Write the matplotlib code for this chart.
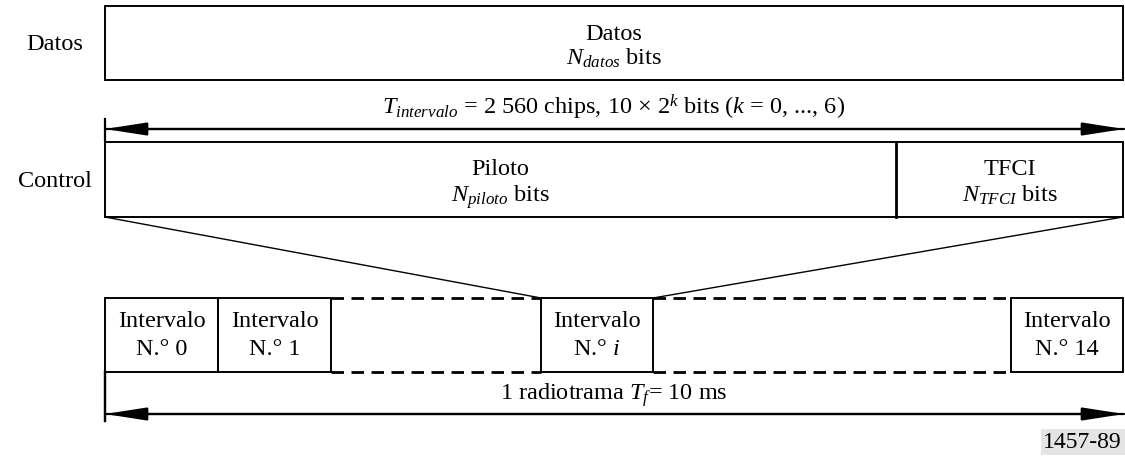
import matplotlib
matplotlib.use("Agg")
import matplotlib.pyplot as plt
from matplotlib.patches import Rectangle, FancyArrowPatch

plt.rcParams['font.family'] = ['Liberation Serif', 'DejaVu Serif']
plt.rcParams['mathtext.fontset'] = 'custom'
plt.rcParams['mathtext.rm'] = 'Liberation Serif'
plt.rcParams['mathtext.it'] = 'Liberation Serif:italic'
plt.rcParams['mathtext.bf'] = 'Liberation Serif:bold'

# ---- content ----
row_labels = ['Datos', 'Control']
data_field = ['Datos', r'$N_{datos}$ bits']
control_fields = [['Piloto', r'$N_{piloto}$ bits'], ['TFCI', r'$N_{TFCI}$ bits']]
slot_title = 'Intervalo'
slot_numbers = ['N.° 0', 'N.° 1', r'N.° $i$', 'N.° 14']
slot_period = r'$T_{intervalo}$ = 2 560 chips, 10 × 2$^{k}$ bits ($k$ = 0, ..., 6)'
frame_period = r'1 radiotrama $T_{f}$= 10 ms'
figure_id = '1457-89'

# ---- layout (pixel coordinates) ----
X0, X1 = 105, 1123
DATA_Y = (7, 81)
CTRL_Y = (143, 218)
CTRL_SPLIT = 896
SLOT_Y = (299, 373)
SLOT_X = [(105, 218), (218, 331), (541, 653), (1011, 1123)]
DASH_X = [(331, 541), (653, 1011)]
FS = 17.5

fig = plt.figure(figsize=(11.25, 4.6), dpi=100)
ax = fig.add_axes([0, 0, 1, 1])
ax.set_xlim(0, 1125)
ax.set_ylim(460, 0)
ax.axis('off')

def box(x0, x1, y0, y1, lw=1.4):
    ax.add_patch(Rectangle((x0, y0), x1 - x0, y1 - y0, fill=False,
                           edgecolor='black', lw=lw, zorder=2))

def arrow(y, ytick0, ytick1):
    for a, b in [((X0, y), (X1 + 1, y)), ((X1 + 1, y), (X0, y))]:
        ax.add_patch(FancyArrowPatch(a, b, arrowstyle='-|>,head_length=1.8,head_width=0.28',
                                     mutation_scale=14, lw=1.6, color='black',
                                     shrinkA=0, shrinkB=0))
    ax.plot([X0, X0], [ytick0, ytick1], color='black', lw=1.6)

# Row labels
ax.text(55, 50, row_labels[0], fontsize=FS, ha='center', va='baseline')
ax.text(55, 187, row_labels[1], fontsize=FS, ha='center', va='baseline')

# Data box
box(X0, X1, *DATA_Y)
xc = (X0 + X1) / 2
ax.text(xc, 40, data_field[0], fontsize=FS, ha='center', va='baseline')
ax.text(xc, 65, data_field[1], fontsize=FS, ha='center', va='baseline')

# Slot period arrow
ax.text(xc, 114, slot_period, fontsize=FS, ha='center', va='baseline')
arrow(130, 120, 141)

# Control box
box(X0, X1, *CTRL_Y)
ax.plot([CTRL_SPLIT, CTRL_SPLIT], CTRL_Y, color='black', lw=2.0)
for (x0, x1), (t1, t2) in zip([(X0, CTRL_SPLIT), (CTRL_SPLIT, X1)], control_fields):
    c = (x0 + x1) / 2
    ax.text(c, 175, t1, fontsize=FS, ha='center', va='baseline')
    ax.text(c, 202, t2, fontsize=FS, ha='center', va='baseline')

# Zoom lines
ax.plot([X0, SLOT_X[2][0]], [CTRL_Y[1], SLOT_Y[0]], color='black', lw=1.0)
ax.plot([X1, SLOT_X[2][1]], [CTRL_Y[1], SLOT_Y[0]], color='black', lw=1.0)

# Slots
for (x0, x1), num in zip(SLOT_X, slot_numbers):
    box(x0, x1, *SLOT_Y)
    c = (x0 + x1) / 2
    ax.text(c, 327, slot_title, fontsize=FS, ha='center', va='baseline')
    ax.text(c, 355, num, fontsize=FS, ha='center', va='baseline')
for x0, x1 in DASH_X:
    for y in SLOT_Y:
        ax.plot([x0, x1], [y, y], color='black', lw=2.0, linestyle=(0, (4.5, 2.7)))

# Frame arrow
ax.plot([X0, X0], [SLOT_Y[1], 422], color='black', lw=1.6)
ax.text(xc, 400, frame_period, fontsize=FS, ha='center', va='baseline')
arrow(415, 373, 422)

# Figure id
ax.text(1122, 443, figure_id, fontsize=17, ha='right', va='center',
        bbox=dict(boxstyle='square,pad=0.12', facecolor='#e4e4e4', edgecolor='none'))

fig.savefig('out.png', dpi=100)
